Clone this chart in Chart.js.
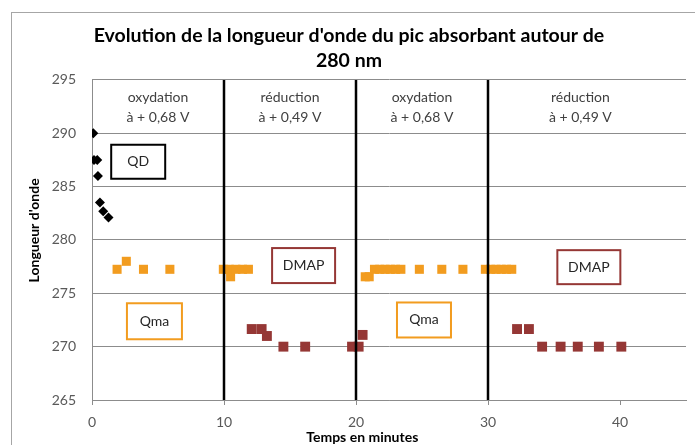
<!DOCTYPE html>
<html>
<head>
<meta charset="utf-8">
<script src="https://cdn.jsdelivr.net/npm/chart.js@4"></script>
<style>
  html, body { margin: 0; padding: 0; background: #fff; }
</style>
</head>
<body>
<canvas id="pic_280" width="695" height="445"></canvas>
<script>
// Temps (min) et longueur d'onde (nm) du pic, par espèce
const qdTime = [0.1, 0.15, 0.4, 0.45, 0.6, 0.85, 1.25];
const qdWave = [290.0, 287.5, 287.5, 286.0, 283.5, 282.7, 282.1];

const qmaTime = [1.9, 2.6, 3.9, 5.9, 9.95, 10.4, 10.5, 10.9, 11.4, 11.85,
  20.7, 21.0, 21.4, 21.8, 22.2, 22.6, 23.0, 23.4, 24.8, 26.5, 28.1,
  29.8, 30.2, 30.6, 31.0, 31.4, 31.8];
const qmaWave = [277.25, 278.0, 277.25, 277.25, 277.25, 277.25, 276.55, 277.25, 277.25, 277.25,
  276.55, 276.55, 277.25, 277.25, 277.25, 277.25, 277.25, 277.25, 277.25, 277.25, 277.25,
  277.25, 277.25, 277.25, 277.25, 277.25, 277.25];

const dmapTime = [12.1, 12.85, 13.25, 14.5, 16.15, 19.7, 20.2, 20.5,
  32.2, 33.1, 34.1, 35.5, 36.8, 38.4, 40.1];
const dmapWave = [271.65, 271.65, 271.0, 270.0, 270.0, 270.0, 270.0, 271.1,
  271.65, 271.65, 270.0, 270.0, 270.0, 270.0, 270.0];

// changements de potentiel
const switchTimes = [10, 20, 30];

const phaseNames = ['oxydation', 'réduction', 'oxydation', 'réduction'];
const phaseVolts = ['à + 0,68 V', 'à + 0,49 V', 'à + 0,68 V', 'à + 0,49 V'];
const phaseMid = [5, 15, 25, 37];

const xTicks = [0, 10, 20, 30, 40];
const yTicks = [265, 270, 275, 280, 285, 290, 295];

const ORANGE = '#F29C1F';
const BROWN = '#953735';

// étiquettes encadrées (centre en unités des axes, taille en px)
const boxes = [
  { text: 'QD', t: 3.5, v: 287.33, w: 54, h: 34, color: '#000000' },
  { text: 'DMAP', t: 16.03, v: 277.6, w: 63, h: 35, color: BROWN },
  { text: 'DMAP', t: 37.64, v: 277.45, w: 63, h: 34, color: BROWN },
  { text: 'Qma', t: 4.73, v: 272.38, w: 55, h: 36, color: ORANGE },
  { text: 'Qma', t: 25.15, v: 272.5, w: 54, h: 35, color: ORANGE }
];

const pts = (xs, ys) => xs.map((x, i) => ({ x: x, y: ys[i] }));

const switchSets = switchTimes.map(t => ({
  type: 'line',
  data: [{ x: t, y: yTicks[0] }, { x: t, y: yTicks[yTicks.length - 1] }],
  borderColor: '#000',
  borderWidth: 2.5,
  pointRadius: 0,
  order: 0
}));

const decor = {
  id: 'decor',
  beforeDraw(chart) {
    const ctx = chart.ctx;
    ctx.save();
    ctx.strokeStyle = '#a6a6a6';
    ctx.lineWidth = 1;
    ctx.strokeRect(11.5, 12.5, 720, 460);
    ctx.restore();
  },
  afterDatasetsDraw(chart) {
    const ctx = chart.ctx;
    const x = chart.scales.x, y = chart.scales.y;
    const area = chart.chartArea;
    ctx.save();
    ctx.textAlign = 'center';
    ctx.textBaseline = 'middle';

    ctx.fillStyle = '#404040';
    ctx.font = '14px Lato';
    phaseMid.forEach((t, i) => {
      const px = x.getPixelForValue(t);
      ctx.fillText(phaseNames[i], px, area.top + 18);
      ctx.fillText(phaseVolts[i], px, area.top + 38);
    });

    boxes.forEach(b => {
      const cx = x.getPixelForValue(b.t), cy = y.getPixelForValue(b.v);
      ctx.fillStyle = '#fff';
      ctx.fillRect(cx - b.w / 2, cy - b.h / 2, b.w, b.h);
      ctx.strokeStyle = b.color;
      ctx.lineWidth = 2;
      ctx.strokeRect(cx - b.w / 2, cy - b.h / 2, b.w, b.h);
      ctx.fillStyle = '#262626';
      ctx.font = '14px Lato';
      ctx.fillText(b.text, cx, cy);
    });

    // titres des axes
    ctx.fillStyle = '#000';
    ctx.font = 'bold 14px Lato';
    ctx.fillText('Temps en minutes', area.left + 0.455 * (area.right - area.left), 437);
    ctx.translate(34, area.top + 0.47 * (area.bottom - area.top));
    ctx.rotate(-Math.PI / 2);
    ctx.fillText("Longueur d'onde", 0, 0);
    ctx.restore();
  }
};

new Chart(document.getElementById('pic_280'), {
  type: 'scatter',
  data: {
    datasets: [
      ...switchSets,
      {
        label: 'QD',
        data: pts(qdTime, qdWave),
        pointStyle: 'rectRot',
        pointRadius: 5,
        backgroundColor: '#000',
        borderColor: '#000',
        borderWidth: 0,
        order: 1
      },
      {
        label: 'Qma',
        data: pts(qmaTime, qmaWave),
        pointStyle: 'rect',
        pointRadius: 6.4,
        backgroundColor: ORANGE,
        borderWidth: 0,
        order: 1
      },
      {
        label: 'DMAP',
        data: pts(dmapTime, dmapWave),
        pointStyle: 'rect',
        pointRadius: 7,
        backgroundColor: BROWN,
        borderWidth: 0,
        order: 1
      }
    ]
  },
  options: {
    responsive: false,
    animation: false,
    layout: { padding: { left: 12, right: 9, top: 0, bottom: 0 } },
    plugins: {
      legend: { display: false },
      tooltip: { enabled: false },
      title: {
        display: true,
        text: ["Evolution de la longueur d'onde du pic absorbant autour de", '280 nm'],
        color: '#000',
        font: { family: 'Lato', size: 19.5, weight: 'bold', lineHeight: 1.28 },
        padding: { top: 23.5, bottom: 6.5 }
      }
    },
    scales: {
      x: {
        type: 'linear',
        min: 0,
        max: 45,
        afterBuildTicks: s => { s.ticks = xTicks.map(v => ({ value: v })); },
        afterFit: s => { s.height = 45; },
        grid: { drawOnChartArea: false, drawTicks: true, tickLength: 5, color: '#8c8c8c' },
        border: { color: '#8c8c8c' },
        ticks: { color: '#595959', font: { family: 'Lato', size: 14 }, padding: 9 }
      },
      y: {
        min: 265,
        max: 295,
        afterBuildTicks: s => { s.ticks = yTicks.map(v => ({ value: v })); },
        afterFit: s => { s.width = 80; },
        grid: { drawTicks: false, color: '#8c8c8c' },
        border: { color: '#8c8c8c' },
        ticks: { color: '#595959', font: { family: 'Lato', size: 14 }, padding: 16 }
      }
    }
  },
  plugins: [decor]
});
</script>
</body>
</html>
